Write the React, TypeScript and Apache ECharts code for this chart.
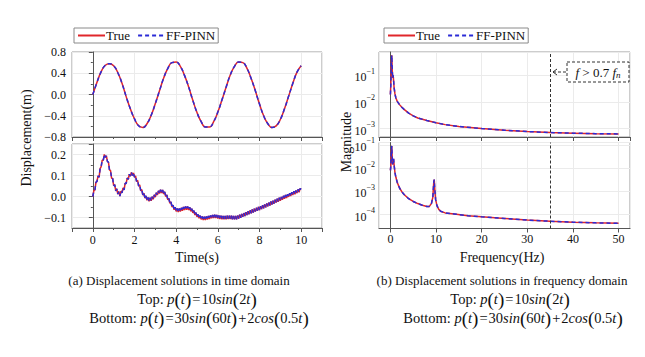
import React, { useEffect, useRef } from 'react';
import * as echarts from 'echarts';

const FONT = 'Liberation Serif';

// ---------- Data ----------
// (a) top: time step 0.2 s, 0..10 s
const timeTopStep = 0.2;
const dispTopTrue = [
  0.0, 0.23, 0.43, 0.55, 0.58, 0.54, 0.41, 0.21, -0.04, -0.27,
  -0.46, -0.59, -0.62, -0.55, -0.39, -0.17, 0.07, 0.31, 0.49, 0.6,
  0.61, 0.53, 0.36, 0.14, -0.11, -0.34, -0.51, -0.61, -0.61, -0.51,
  -0.33, -0.1, 0.14, 0.37, 0.53, 0.61, 0.6, 0.49, 0.3, 0.07,
  -0.18, -0.4, -0.55, -0.62, -0.59, -0.47, -0.27, -0.03, 0.21, 0.42,
  0.54,
];
const dispTopPinn = [
  0.0, 0.23, 0.43, 0.55, 0.58, 0.54, 0.41, 0.21, -0.04, -0.27,
  -0.46, -0.59, -0.62, -0.55, -0.39, -0.17, 0.07, 0.31, 0.49, 0.6,
  0.61, 0.53, 0.36, 0.14, -0.11, -0.34, -0.51, -0.61, -0.61, -0.51,
  -0.33, -0.1, 0.14, 0.37, 0.53, 0.61, 0.6, 0.49, 0.3, 0.07,
  -0.18, -0.4, -0.55, -0.62, -0.59, -0.47, -0.27, -0.03, 0.21, 0.42,
  0.54,
];

// (a) bottom: time step 0.05 s, 0..10 s
const timeBottomStep = 0.05;
const dispBottomTrue = [
  0.000, 0.028, 0.032, 0.068, 0.072, 0.098, 0.092, 0.133, 0.142, 0.173,
  0.172, 0.200, 0.187, 0.193, 0.167, 0.163, 0.127, 0.123, 0.087, 0.086,
  0.052, 0.056, 0.027, 0.036, 0.012, 0.023, 0.002, 0.026, 0.017, 0.041,
  0.032, 0.063, 0.062, 0.088, 0.082, 0.106, 0.097, 0.115, 0.100, 0.112,
  0.092, 0.098, 0.072, 0.077, 0.050, 0.055, 0.027, 0.033, 0.007, 0.016,
  -0.008, 0.003, -0.018, -0.005, -0.023, -0.006, -0.020, -0.001, -0.013, 0.008,
  -0.003, 0.018, 0.007, 0.027, 0.014, 0.032, 0.017, 0.031, 0.012, 0.022,
  0.000, 0.008, -0.016, -0.009, -0.033, -0.026, -0.050, -0.041, -0.063, -0.051,
  -0.071, -0.057, -0.074, -0.057, -0.072, -0.054, -0.068, -0.050, -0.064, -0.047,
  -0.063, -0.047, -0.064, -0.051, -0.070, -0.058, -0.078, -0.067, -0.088, -0.077,
  -0.097, -0.085, -0.104, -0.091, -0.109, -0.095, -0.112, -0.096, -0.112, -0.095,
  -0.110, -0.093, -0.107, -0.090, -0.104, -0.088, -0.103, -0.087, -0.103, -0.088,
  -0.105, -0.090, -0.107, -0.092, -0.108, -0.093, -0.109, -0.093, -0.108, -0.092,
  -0.107, -0.091, -0.107, -0.092, -0.108, -0.093, -0.109, -0.093, -0.108, -0.091,
  -0.105, -0.087, -0.101, -0.083, -0.097, -0.079, -0.093, -0.075, -0.088, -0.070,
  -0.084, -0.066, -0.080, -0.062, -0.076, -0.058, -0.072, -0.054, -0.068, -0.050,
  -0.064, -0.046, -0.060, -0.042, -0.056, -0.038, -0.051, -0.033, -0.047, -0.029,
  -0.043, -0.024, -0.038, -0.020, -0.034, -0.015, -0.029, -0.011, -0.025, -0.006,
  -0.020, -0.002, -0.016, 0.003, -0.011, 0.007, -0.007, 0.011, -0.002, 0.016,
  0.002, 0.020, 0.007, 0.025, 0.011, 0.029, 0.016, 0.034, 0.020, 0.038,
  0.034,
];
const dispBottomPinn = dispBottomTrue.slice();

// (b) top: spectrum
const freqTop = [0, 0.1, 0.2, 0.3, 0.4, 0.5, 0.6, 0.7, 0.8, 1.0, 1.2, 1.5, 2, 2.5, 3, 4, 5, 6, 8, 10, 12, 15, 20, 25, 30, 35, 40, 45, 50];
const magTopTrue = [
  1.91e-2, 5.01e-2, 0.251, 0.562, 0.158, 7.94e-2, 0.1, 6.31e-2, 3.55e-2,
  2.0e-2, 1.41e-2, 1.05e-2, 7.94e-3, 6.31e-3, 5.25e-3, 3.8e-3, 3.02e-3, 2.51e-3,
  2.0e-3, 1.66e-3, 1.41e-3, 1.2e-3, 1.0e-3, 8.71e-4, 7.76e-4, 7.08e-4, 6.76e-4, 6.46e-4, 6.31e-4,
];
const magTopPinn = magTopTrue.slice();

// (b) bottom: spectrum
const freqBottom = [0, 0.1, 0.2, 0.3, 0.4, 0.5, 0.6, 0.7, 0.8, 1.0, 1.2, 1.5, 2.0, 2.5, 3.0, 4.0, 5.0, 6.0, 7.0, 8.0, 8.5, 9.0, 9.3, 9.5, 9.6, 9.7, 9.9, 10.2, 10.6, 11, 12, 14, 17, 20, 25, 30, 35, 40, 45, 50];
const magBottomTrue = [
  7.94e-3, 1.26e-2, 5.01e-2, 8.91e-2, 2.51e-2, 1.41e-2, 2.24e-2, 2.51e-2, 1.41e-2,
  6.31e-3, 3.98e-3, 2.4e-3, 1.38e-3, 9.55e-4, 7.24e-4,
  4.79e-4, 3.63e-4, 2.95e-4, 2.51e-4, 2.19e-4,
  2.19e-4, 3.02e-4, 5.62e-4, 2.51e-3, 3.16e-3, 1.41e-3, 4.47e-4,
  2.4e-4, 1.66e-4, 1.38e-4, 1.17e-4, 1.05e-4, 8.91e-5,
  7.94e-5, 6.76e-5, 5.75e-5, 5.13e-5, 4.68e-5, 4.37e-5, 4.17e-5,
];
const magBottomPinn = magBottomTrue.slice();

const cutoffFreq = 35; // 0.7 f_n
const legendNames = ['True', 'FF-PINN'];

// ---------- Styles ----------
const RED = '#e0262b';
const BLUE = '#2b2bd6';
const AXIS = '#555';
const BORDER = '#9a9a9a';
const GRIDLINE = '#ebebeb';
const INK = '#111';

const fmt1 = (v: number) => v.toFixed(1).replace('-', '\u2212');
const fmtPow = (v: number) => {
  const e = Math.round(Math.log10(v));
  return `{b|10}{s|${e < 0 ? '\u2212' : ''}${Math.abs(e)}}`;
};

const labelBase = { fontFamily: FONT, fontSize: 12, color: INK };

function xAxisCfg(gridIndex: number, min: number, max: number, showLabels: boolean, minor: boolean, margin: number) {
  return {
    type: 'value',
    gridIndex,
    min,
    max,
    axisLine: { show: true, onZero: false, lineStyle: { color: AXIS } },
    axisTick: { show: true, length: 4, lineStyle: { color: AXIS } },
    minorTick: { show: minor, splitNumber: 2, length: 2, lineStyle: { color: AXIS } },
    axisLabel: { show: showLabels, ...labelBase, margin, showMinLabel: false, showMaxLabel: false },
    splitLine: { show: true, lineStyle: { color: GRIDLINE } },
  };
}

function App() {
  const ref = useRef<HTMLDivElement>(null);

  useEffect(() => {
    if (!ref.current) return;
    const chart = echarts.init(ref.current, null, { renderer: 'svg' });

    const topPts = (arr: number[]) => arr.map((v, i) => [i * timeTopStep, v]);
    const botPts = (arr: number[]) => arr.map((v, i) => [i * timeBottomStep, v]);
    const fPts = (fs: number[], arr: number[]) => arr.map((v, i) => [fs[i], v]);

    const trueStyle = { color: RED, width: 1.5, type: 'solid' };
    const pinnStyle = { color: BLUE, width: 1.5, type: [4, 3] };

    const mkSeries = (name: string, x: number, y: number, data: any[], style: any, smooth: boolean, extra: any = {}) => ({
      name,
      type: 'line',
      xAxisIndex: x,
      yAxisIndex: y,
      data,
      symbol: 'none',
      showSymbol: false,
      smooth,
      color: style.color,
      lineStyle: style,
      silent: true,
      ...extra,
    });

    const cutLine = {
      markLine: {
        silent: true,
        symbol: ['none', 'none'],
        label: { show: false },
        lineStyle: { color: '#333', width: 1, type: [3, 2] },
        data: [{ xAxis: cutoffFreq }],
      },
    };

    const legendCommon = {
      orient: 'horizontal',
      top: 28,
      data: legendNames,
      itemWidth: 27,
      itemHeight: 10,
      itemGap: 7,
      padding: [1, 3, 1, 3],
      borderColor: '#8a8a8a',
      borderWidth: 1,
      backgroundColor: '#fff',
      itemStyle: { opacity: 0 },
      textStyle: { fontFamily: FONT, fontSize: 13, color: INK, padding: [0, 0, 0, -4] },
      selectedMode: false,
    };

    const logLabel = {
      ...labelBase,
      margin: 4,
      showMinLabel: false,
      showMaxLabel: false,
      formatter: fmtPow,
      rich: {
        b: { fontFamily: FONT, fontSize: 12, color: INK, padding: [4, 0, 0, 0], verticalAlign: 'bottom' },
        s: { fontFamily: FONT, fontSize: 8, color: INK, verticalAlign: 'top' },
      },
    };

    const LH = 16;
    const capStyle = (text: string) => ({
      text,
      fontFamily: FONT,
      fontSize: 14.5,
      lineHeight: LH,
      fill: INK,
      align: 'center',
      verticalAlign: 'middle',
      rich: {
        n: { fontFamily: FONT, fontSize: 14.5, lineHeight: LH, fill: INK },
        i: { fontFamily: FONT, fontSize: 14.5, lineHeight: LH, fontStyle: 'italic', fill: INK },
        p: { fontFamily: FONT, fontSize: 19, lineHeight: LH, fill: INK },
        e: { fontFamily: FONT, fontSize: 14.5, lineHeight: LH, fill: INK, padding: [0, 1, 0, 1] },
      },
    });

    const eqTop = '{n|Top: }{i|p}{p|(}{i|t}{p|)}{e|=}{n|10}{i|sin}{p|(}{n|2}{i|t}{p|)}';
    const eqBottom = '{n|Bottom: }{i|p}{p|(}{i|t}{p|)}{e|=}{n|30}{i|sin}{p|(}{n|60}{i|t}{p|)}{e|+}{n|2}{i|cos}{p|(}{n|0.5}{i|t}{p|)}';

    const txt = (x: number, y: number, text: string, size: number, rot = 0) => ({
      type: 'text', x, y, rotation: rot,
      style: { text, fontFamily: FONT, fontSize: size, fill: INK, align: 'center', verticalAlign: 'middle' },
    });

    const option: any = {
      animation: false,
      backgroundColor: '#fff',
      legend: [
        { ...legendCommon, left: 74 },
        { ...legendCommon, left: 384 },
      ],
      grid: [
        { left: 72, top: 52, width: 250, height: 85, show: true, borderColor: BORDER, borderWidth: 1, outerBoundsMode: 'none' },
        { left: 72, top: 144, width: 250, height: 84, show: true, borderColor: BORDER, borderWidth: 1, outerBoundsMode: 'none' },
        { left: 379, top: 52, width: 251, height: 85, show: true, borderColor: BORDER, borderWidth: 1, outerBoundsMode: 'none' },
        { left: 379, top: 142.5, width: 251, height: 86, show: true, borderColor: BORDER, borderWidth: 1, outerBoundsMode: 'none' },
      ],
      xAxis: [
        xAxisCfg(0, -1, 11, false, true, 6),
        xAxisCfg(1, -1, 11, true, true, 6),
        xAxisCfg(2, -2.5, 52.5, false, false, 4),
        xAxisCfg(3, -2.5, 52.5, true, false, 4),
      ],
      yAxis: [
        {
          type: 'value', gridIndex: 0, min: -0.8, max: 0.8, interval: 0.4,
          axisLine: { show: true, lineStyle: { color: AXIS } },
          axisTick: { show: true, length: 4, lineStyle: { color: AXIS } },
          minorTick: { show: true, splitNumber: 2, length: 2, lineStyle: { color: AXIS } },
          axisLabel: { ...labelBase, margin: 6, formatter: fmt1 },
          splitLine: { show: true, lineStyle: { color: GRIDLINE } },
        },
        {
          type: 'value', gridIndex: 1, min: -0.15, max: 0.25,
          axisLine: { show: true, lineStyle: { color: AXIS } },
          axisTick: { show: true, length: 4, lineStyle: { color: AXIS } },
          minorTick: { show: true, splitNumber: 2, length: 2, lineStyle: { color: AXIS } },
          axisLabel: { ...labelBase, margin: 6, formatter: fmt1, showMinLabel: false, showMaxLabel: false },
          splitLine: { show: true, lineStyle: { color: GRIDLINE } },
        },
        {
          type: 'log', logBase: 10, gridIndex: 2, min: 4.84e-4, max: 0.748,
          axisLine: { show: true, lineStyle: { color: AXIS } },
          axisTick: { show: false },
          axisLabel: logLabel,
          splitLine: { show: true, lineStyle: { color: GRIDLINE } },
        },
        {
          type: 'log', logBase: 10, gridIndex: 3, min: 2.5e-5, max: 0.125,
          axisLine: { show: true, lineStyle: { color: AXIS } },
          axisTick: { show: false },
          axisLabel: logLabel,
          splitLine: { show: true, lineStyle: { color: GRIDLINE } },
        },
      ],
      series: [
        mkSeries('True', 0, 0, topPts(dispTopTrue), trueStyle, true),
        mkSeries('FF-PINN', 0, 0, topPts(dispTopPinn), pinnStyle, true),
        mkSeries('True', 1, 1, botPts(dispBottomTrue), trueStyle, false),
        mkSeries('FF-PINN', 1, 1, botPts(dispBottomPinn), pinnStyle, false),
        mkSeries('True', 2, 2, fPts(freqTop, magTopTrue), trueStyle, false),
        mkSeries('FF-PINN', 2, 2, fPts(freqTop, magTopPinn), pinnStyle, false, cutLine),
        mkSeries('True', 3, 3, fPts(freqBottom, magBottomTrue), trueStyle, false),
        mkSeries('FF-PINN', 3, 3, fPts(freqBottom, magBottomPinn), pinnStyle, false, cutLine),
      ],
      graphic: [
        txt(26, 138, 'Displacement(m)', 14, Math.PI / 2),
        txt(346, 142, 'Magnitude', 14, Math.PI / 2),
        txt(197, 257, 'Time(s)', 14),
        txt(502, 257, 'Frequency(Hz)', 14),
        txt(179, 280, '(a) Displacement solutions in time domain', 13),
        { type: 'text', x: 197, y: 299, style: capStyle(eqTop) },
        { type: 'text', x: 199, y: 318, style: capStyle(eqBottom) },
        txt(502, 280, '(b) Displacement solutions in frequency domain', 13),
        { type: 'text', x: 510, y: 299, style: capStyle(eqTop) },
        { type: 'text', x: 513, y: 318, style: capStyle(eqBottom) },
        // annotation box
        { type: 'rect', shape: { x: 567, y: 62, width: 62, height: 20 }, style: { fill: '#fff', stroke: '#333', lineWidth: 1, lineDash: [3, 2] }, z: 100 },
        {
          type: 'text', x: 598, y: 72, z: 101,
          style: {
            text: '{i|f}{n| > 0.7 }{i|f}{s|n}', fontFamily: FONT, fontSize: 13, fill: INK, align: 'center', verticalAlign: 'middle',
            rich: {
              n: { fontFamily: FONT, fontSize: 13, fill: INK },
              i: { fontFamily: FONT, fontSize: 13, fontStyle: 'italic', fill: INK },
              s: { fontFamily: FONT, fontSize: 9, fontStyle: 'italic', fill: INK, padding: [6, 0, 0, 0] },
            },
          },
        },
        { type: 'line', shape: { x1: 553, y1: 72, x2: 566, y2: 72 }, style: { stroke: '#333', lineWidth: 1, lineDash: [3, 2] }, z: 100 },
        { type: 'polyline', shape: { points: [[557, 69], [553, 72], [557, 75]] }, style: { stroke: '#333', lineWidth: 1, fill: 'none' }, z: 100 },
      ],
    };

    chart.setOption(option);
    return () => chart.dispose();
  }, []);

  return (
    <div
      ref={ref}
      style={{ position: 'fixed', left: 0, top: 0, width: 645, height: 357, background: '#fff' }}
    />
  );
}

export default App;
